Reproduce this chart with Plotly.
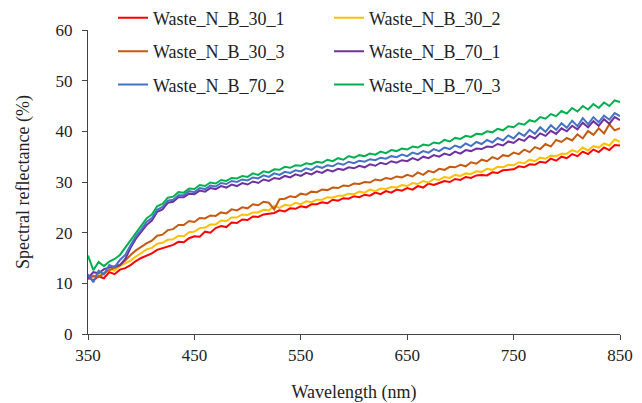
import plotly.graph_objects as go

# wavelength grid, nm (5 nm steps)
wavelength = list(range(350, 851, 5))

waste_30_1 = [11.2, 10.6, 11.4, 11.0, 12.2, 11.8, 12.7, 13.0, 13.6, 14.4,
              15.0, 15.4, 15.9, 16.6, 16.9, 17.3, 17.6, 18.2, 18.1, 18.9,
              19.3, 19.2, 20.2, 20.0, 20.9, 21.3, 21.1, 22.0, 21.9, 22.6,
              22.5, 23.2, 23.1, 23.6, 23.8, 23.9, 24.4, 24.2, 24.8, 24.7,
              25.2, 25.0, 25.6, 25.6, 26.0, 25.8, 26.5, 26.3, 26.8, 26.7,
              27.2, 27.0, 27.5, 27.3, 27.9, 27.6, 28.2, 27.9, 28.5, 28.3,
              28.8, 28.5, 29.2, 28.9, 29.7, 29.4, 29.8, 30.2, 30.0, 30.6,
              30.4, 31.0, 30.8, 31.3, 31.4, 31.3, 31.9, 31.8, 32.3, 32.4,
              32.5, 33.1, 32.9, 33.5, 33.4, 34.0, 33.8, 34.6, 34.2, 35.0,
              34.7, 35.5, 35.1, 36.0, 35.5, 36.4, 35.9, 36.8, 36.3, 37.3,
              37.2]

waste_30_2 = [11.6, 11.2, 12.0, 11.7, 12.8, 12.5, 13.4, 13.9, 14.5, 15.3,
              16.0, 16.7, 17.0, 17.8, 18.0, 18.6, 18.7, 19.4, 19.3, 20.1,
              20.2, 20.9, 21.0, 21.6, 21.6, 22.4, 22.3, 23.0, 23.0, 23.6,
              23.5, 24.0, 24.0, 24.5, 24.4, 25.3, 24.9, 25.5, 25.3, 25.9,
              25.6, 26.2, 26.0, 26.5, 26.5, 27.0, 26.9, 27.3, 27.3, 27.7,
              27.6, 28.1, 27.9, 28.5, 28.2, 28.7, 28.6, 29.0, 28.9, 29.4,
              29.2, 29.8, 29.6, 30.2, 29.9, 30.6, 30.4, 31.0, 30.8, 31.4,
              31.2, 31.7, 31.6, 32.1, 32.0, 32.6, 32.4, 33.0, 32.9, 33.4,
              33.3, 33.9, 33.7, 34.4, 34.1, 34.8, 34.6, 35.2, 35.1, 35.6,
              35.6, 36.3, 35.9, 36.8, 36.2, 37.1, 36.8, 37.6, 37.2, 38.4,
              37.9]

waste_30_3 = [10.8, 11.5, 11.2, 12.0, 12.6, 13.0, 13.6, 14.5, 15.6, 16.5,
              17.2, 17.9, 18.4, 19.4, 19.6, 20.5, 20.7, 21.5, 21.5, 22.3,
              22.1, 22.9, 22.8, 23.4, 23.3, 24.0, 23.8, 24.6, 24.4, 25.0,
              24.8, 25.6, 25.4, 26.1, 25.9, 24.6, 26.6, 26.7, 27.2, 27.0,
              27.7, 27.5, 28.1, 28.0, 28.5, 28.4, 28.9, 28.8, 29.3, 29.2,
              29.7, 29.6, 30.0, 29.9, 30.5, 30.3, 30.8, 30.6, 31.1, 30.9,
              31.4, 31.1, 31.9, 31.4, 32.2, 31.9, 32.6, 32.4, 33.0, 32.9,
              33.4, 33.1, 33.9, 33.6, 34.4, 34.1, 34.9, 34.5, 35.3, 35.1,
              35.8, 35.5, 36.4, 35.9, 36.9, 36.5, 37.5, 37.0, 38.3, 37.9,
              38.7, 38.2, 39.4, 38.6, 40.1, 39.3, 40.6, 39.6, 41.4, 40.2,
              40.6]

waste_70_1 = [11.0, 12.2, 12.0, 12.8, 13.1, 13.4, 13.6, 14.8, 17.0, 18.8,
              20.2, 21.5, 22.4, 24.1, 24.6, 25.9, 26.1, 27.0, 27.0, 27.7,
              27.6, 28.3, 28.1, 28.8, 28.6, 29.2, 28.9, 29.5, 29.2, 29.8,
              29.5, 30.1, 29.8, 30.5, 30.2, 30.8, 30.6, 31.2, 30.9, 31.5,
              31.2, 31.8, 31.5, 32.1, 31.8, 32.4, 32.1, 32.6, 32.4, 32.9,
              32.7, 33.2, 32.9, 33.5, 33.2, 33.8, 33.5, 34.1, 33.8, 34.3,
              34.1, 34.7, 34.3, 35.0, 34.7, 35.3, 35.0, 35.6, 35.3, 36.0,
              35.6, 36.3, 36.1, 36.6, 36.5, 37.0, 36.9, 37.5, 37.2, 38.0,
              37.7, 38.5, 38.1, 39.1, 38.6, 39.6, 39.1, 40.1, 39.5, 40.6,
              40.0, 41.1, 40.4, 41.7, 40.8, 42.0, 41.1, 42.4, 41.5, 42.8,
              42.2]

waste_70_2 = [11.8, 10.2, 12.5, 11.8, 13.6, 13.2, 14.6, 15.6, 17.5, 19.3,
              20.6, 22.1, 22.9, 24.5, 25.1, 26.3, 26.5, 27.4, 27.4, 28.2,
              28.0, 28.8, 28.6, 29.3, 29.1, 29.8, 29.6, 30.2, 30.0, 30.5,
              30.3, 30.9, 30.7, 31.3, 31.0, 31.7, 31.4, 32.0, 31.8, 32.3,
              32.1, 32.7, 32.4, 33.1, 32.8, 33.3, 33.1, 33.7, 33.4, 34.0,
              33.7, 34.2, 34.0, 34.5, 34.3, 34.8, 34.6, 35.1, 34.9, 35.4,
              35.1, 35.8, 35.5, 36.1, 35.8, 36.5, 36.1, 36.8, 36.5, 37.2,
              36.8, 37.6, 37.1, 37.9, 37.5, 38.3, 37.8, 38.7, 38.2, 39.2,
              38.6, 39.7, 39.1, 40.3, 39.5, 40.8, 39.9, 41.2, 40.3, 41.6,
              40.7, 42.1, 41.0, 42.6, 41.4, 42.8, 41.8, 43.1, 42.3, 43.6,
              43.0]

waste_70_3 = [15.5, 12.6, 14.2, 13.4, 14.3, 14.8, 15.6, 17.0, 18.6, 20.0,
              21.3, 22.8, 23.6, 25.2, 25.7, 26.9, 27.1, 28.0, 27.9, 28.7,
              28.6, 29.4, 29.2, 29.9, 29.7, 30.4, 30.2, 30.8, 30.7, 31.2,
              31.0, 31.7, 31.4, 32.1, 31.9, 32.5, 32.4, 33.0, 32.8, 33.3,
              33.2, 33.7, 33.5, 34.0, 33.8, 34.4, 34.1, 34.7, 34.4, 35.1,
              34.8, 35.3, 35.1, 35.6, 35.4, 36.0, 35.7, 36.3, 36.1, 36.6,
              36.4, 37.0, 36.8, 37.4, 37.2, 37.8, 37.6, 38.3, 38.0, 38.7,
              38.5, 39.1, 38.9, 39.5, 39.4, 40.0, 39.8, 40.5, 40.2, 41.0,
              40.8, 41.6, 41.3, 42.2, 41.9, 42.8, 42.5, 43.4, 43.0, 44.0,
              43.5, 44.6, 43.9, 45.0, 44.3, 45.4, 44.6, 45.7, 45.0, 46.1,
              45.8]

# (name, values, colour, legend column)
series = [
    ("Waste_N_B_30_1", waste_30_1, "#FF0000", "legend"),
    ("Waste_N_B_30_2", waste_30_2, "#FFC000", "legend2"),
    ("Waste_N_B_30_3", waste_30_3, "#C55A11", "legend"),
    ("Waste_N_B_70_1", waste_70_1, "#7030A0", "legend2"),
    ("Waste_N_B_70_2", waste_70_2, "#4472C4", "legend"),
    ("Waste_N_B_70_3", waste_70_3, "#00B050", "legend2"),
]

FONT = "Palatino Linotype, Book Antiqua, Palatino, Liberation Serif, serif"

fig = go.Figure()
for name, vals, col, leg in series:
    fig.add_trace(go.Scatter(x=wavelength, y=vals, mode="lines", name=name,
                             line=dict(color=col, width=2),
                             legend=leg, legendgroup=name))

legend_style = dict(font=dict(family=FONT, size=18, color="#222"),
                    bgcolor="rgba(0,0,0,0)", borderwidth=0,
                    tracegroupgap=7, itemwidth=30,
                    yanchor="top", xanchor="left")

# page body has an 8px default margin, so the figure is a bit smaller
fig.update_layout(
    width=634, height=395,
    margin=dict(l=80, r=22, t=22, b=69, autoexpand=False),
    plot_bgcolor="white", paper_bgcolor="white",
    font=dict(family=FONT, size=17, color="#222"),
    showlegend=True,
    legend=dict(x=0.047, y=1.1, **legend_style),
    legend2=dict(x=0.453, y=1.1, **legend_style),
    xaxis=dict(range=[350, 850], tickvals=[350, 450, 550, 650, 750, 850],
               showline=True, linecolor="#444", linewidth=1,
               ticks="outside", ticklen=5, tickcolor="#444",
               showgrid=False, zeroline=False, ticklabelstandoff=1,
               automargin=False,
               title=dict(text="Wavelength (nm)", standoff=24,
                          font=dict(size=18))),
    yaxis=dict(range=[0, 60], dtick=10,
               showline=True, linecolor="#444", linewidth=1,
               ticks="outside", ticklen=5, tickcolor="#444",
               showgrid=False, zeroline=False, ticklabelstandoff=6,
               automargin=False,
               title=dict(text="Spectral reflectance (%)", standoff=21,
                          font=dict(size=18))),
)

fig.write_html("out.html")
